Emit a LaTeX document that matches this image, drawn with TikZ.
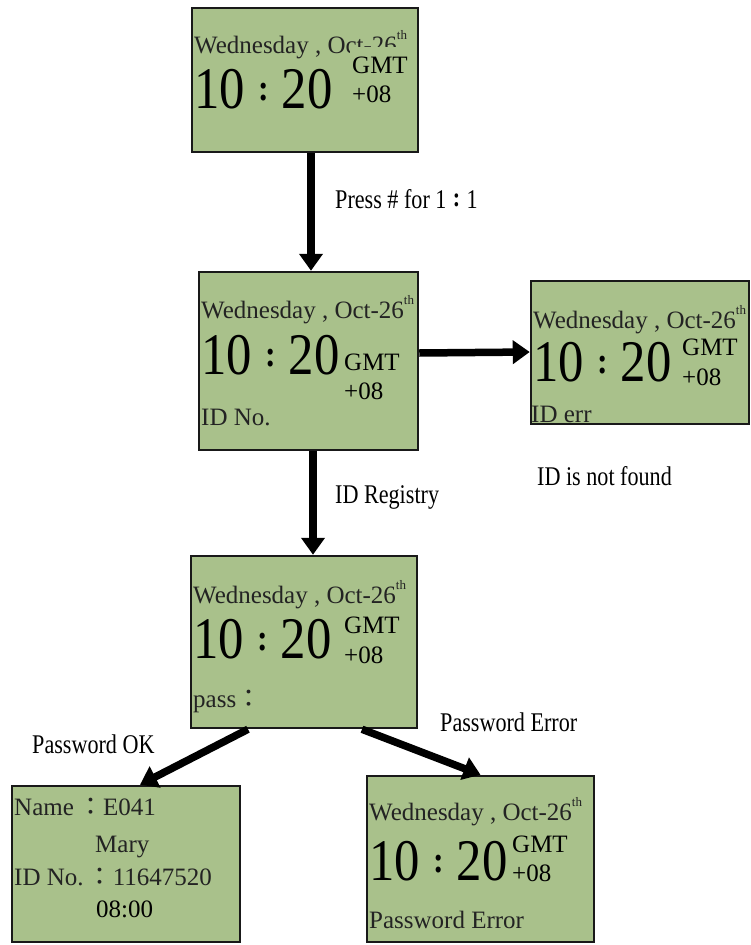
\documentclass[tikz,border=0pt]{standalone}
\usepackage{fontspec}
\setmainfont{Liberation Serif}
\newfontfamily\cjk{Noto Sans CJK TC}
\newfontfamily\lblfont[FakeStretch=0.82]{Liberation Serif}
\newfontfamily\clkfont[FakeStretch=0.86]{Liberation Serif}
\usetikzlibrary{arrows.meta}
\definecolor{lcd}{RGB}{169,193,139}
\definecolor{ink}{RGB}{35,35,35}
\newcommand{\fcol}{{\cjk ：}}
\newcommand{\clk}{10\makebox[37pt]{\raisebox{8pt}{\fontsize{37}{37}\selectfont\bfseries :}}20}
\newcommand{\wday}{Wednesday , Oct-26\raisebox{14pt}{\fontsize{13}{13}\selectfont th}}
\tikzset{
  lcdbox/.style={draw=black!90, line width=2.5pt, fill=lcd, inner sep=0pt},
  txt/.style={inner sep=0pt, anchor=base west, text=ink, font=\fontsize{25}{25}\selectfont},
  clock/.style={inner sep=0pt, anchor=base west, text=black, font=\clkfont\fontsize{59}{59}\selectfont},
  gmt/.style={inner sep=0pt, anchor=base west, text=black, font=\fontsize{25}{25}\selectfont},
  lbl/.style={inner sep=0pt, anchor=base west, text=black, font=\lblfont\fontsize{27}{27}\selectfont},
  arr/.style={line width=7.5pt, -{Triangle[length=17pt,width=23pt]}}
}
\begin{document}
\begin{tikzpicture}[x=1pt,y=-1pt]
\useasboundingbox (0,0) rectangle (750,945);
% boxes
\node[lcdbox, minimum width=226pt, minimum height=144pt] (b1) at (305,80) {};
\node[lcdbox, minimum width=219pt, minimum height=178pt] (b2) at (308.5,361) {};
\node[lcdbox, minimum width=218pt, minimum height=143pt] (b3) at (640,352.5) {};
\node[lcdbox, minimum width=226pt, minimum height=172pt] (b4) at (304,642) {};
\node[lcdbox, minimum width=228pt, minimum height=156pt] (b5) at (126,864) {};
\node[lcdbox, minimum width=227pt, minimum height=166pt] (b6) at (480.5,859) {};
% box 1
\node[txt] (b1d) at (194,53) {\wday};
\node[fill=lcd, inner sep=0pt, anchor=north west, minimum width=62pt, minimum height=62pt] (b1c) at (350,47) {};
\node[clock] (b1t) at (194,108) {\clk};
\node[gmt] (b1g) at (352,73) {GMT};
\node[gmt] (b1o) at (352,102) {+08};
% box 2
\node[txt] (b2d) at (201,318) {\wday};
\node[clock] (b2t) at (201,374) {\clk};
\node[gmt] (b2g) at (344,370) {GMT};
\node[gmt] (b2o) at (344,399) {+08};
\node[txt] (b2i) at (201,425) {ID No.};
% box 3
\node[txt] (b3d) at (533,328) {\wday};
\node[clock] (b3t) at (533,381) {\clk};
\node[gmt] (b3g) at (682,355) {GMT};
\node[gmt] (b3o) at (682,385) {+08};
\node[txt] (b3i) at (531,422) {ID err};
% box 4
\node[txt] (b4d) at (193,603) {\wday};
\node[clock] (b4t) at (193,658) {\clk};
\node[gmt] (b4g) at (344,633) {GMT};
\node[gmt] (b4o) at (344,663) {+08};
\node[txt] (b4p) at (193,707) {pass\fcol};
% box 5
\node[txt] (b5n) at (14,815) {Name\,\fcol E041};
\node[txt] (b5m) at (95,852) {Mary};
\node[txt] (b5i) at (14,885) {ID No.\,\fcol 11647520};
\node[txt, text=black] (b5h) at (96,917) {08:00};
% box 6
\node[txt] (b6d) at (369,820) {\wday};
\node[clock] (b6t) at (369,880) {\clk};
\node[gmt] (b6g) at (512,852) {GMT};
\node[gmt] (b6o) at (512,881) {+08};
\node[txt] (b6e) at (369,928) {Password Error};
% arrows
\draw[arr] ([xshift=6pt]b1.south) -- ([xshift=2.5pt]b2.north);
\draw[arr] ([yshift=8pt]b2.east) -- ([yshift=0.5pt]b3.west);
\draw[arr] ([xshift=4.5pt]b2.south) -- ([xshift=9pt]b4.north);
\draw[arr] ([xshift=-56pt]b4.south) -- ([xshift=14pt]b5.north);
\draw[arr] ([xshift=58pt]b4.south) -- (b6.north);
% labels
\node[lbl] (l1) at (335,208) {Press \# for 1\makebox[20pt]{\raisebox{2pt}{\bfseries :}}1};
\node[lbl] (l2) at (335,503) {ID Registry};
\node[lbl] (l3) at (537,485) {ID is not found};
\node[lbl] (l4) at (32,753) {Password OK};
\node[lbl] (l5) at (440,731) {Password Error};
\end{tikzpicture}
\end{document}
